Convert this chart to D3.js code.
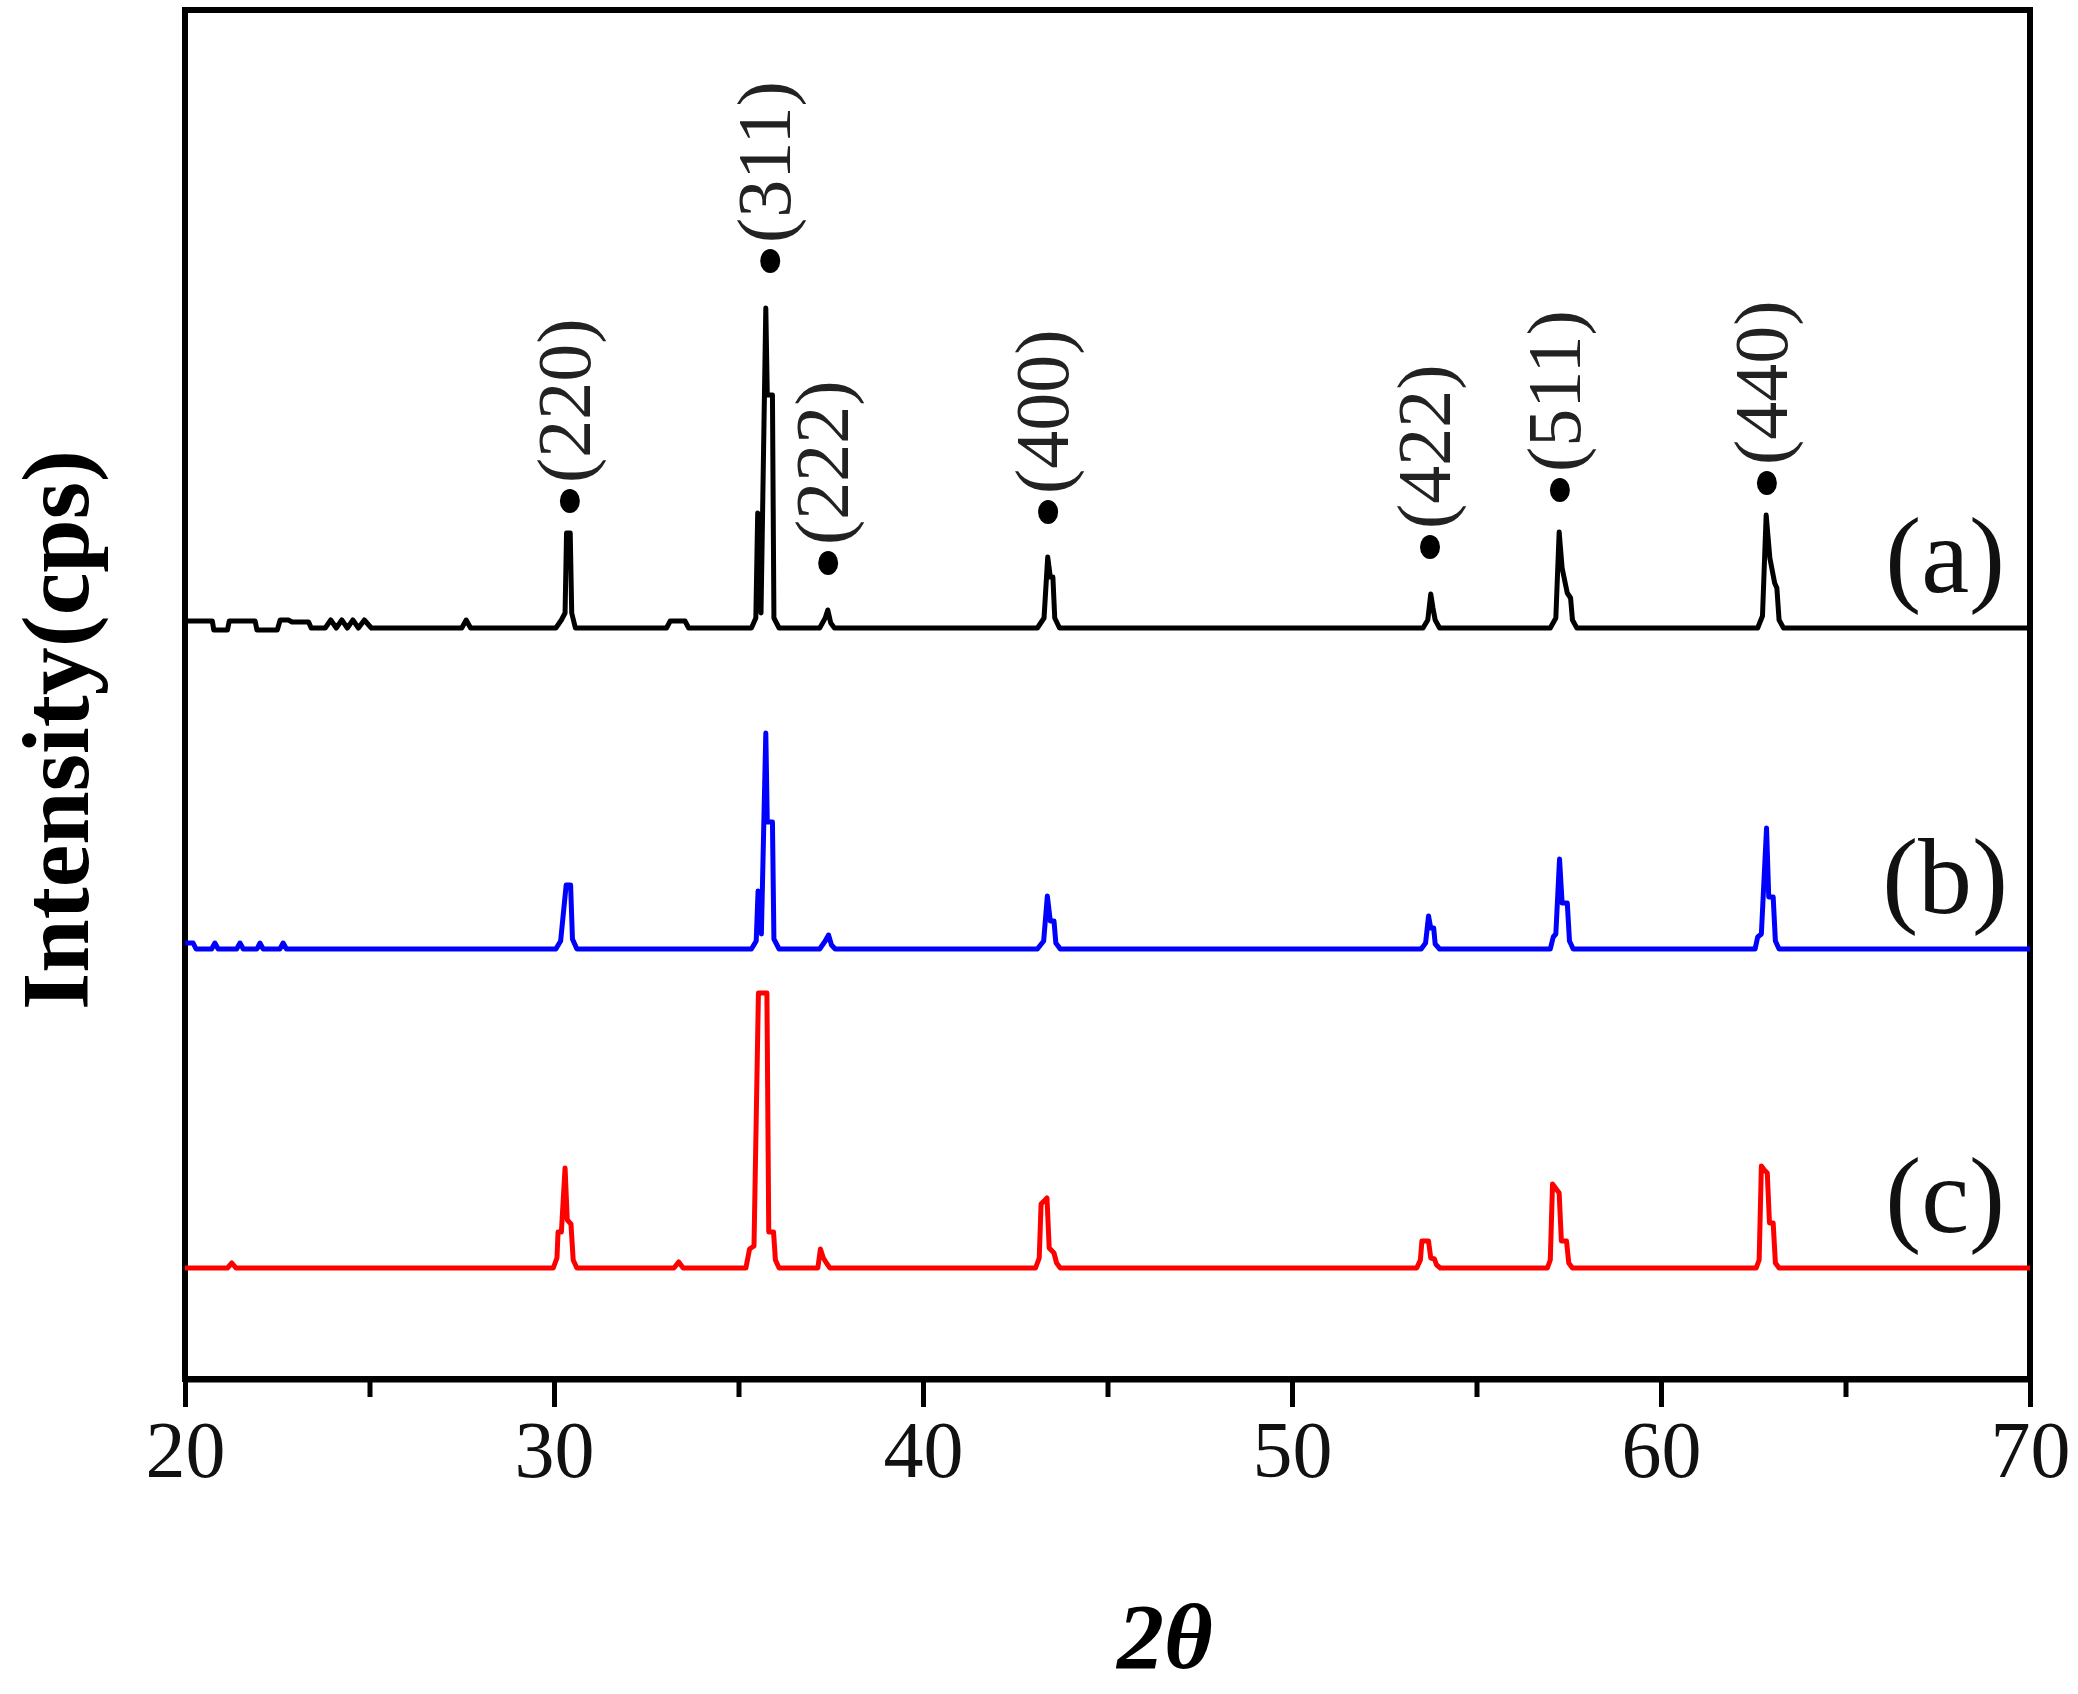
<!DOCTYPE html>
<html>
<head>
<meta charset="utf-8">
<script src="https://cdn.jsdelivr.net/npm/d3@7"></script>
<style>
  body { margin: 0; background: #ffffff; }
  text { font-family: "Times New Roman", "Liberation Serif", serif; }
</style>
</head>
<body>
<svg id="chart" width="2078" height="1694"></svg>
<script>
// ---------- data ----------
const xTicks = [20, 30, 40, 50, 60, 70];
const xMinorTicks = [25, 35, 45, 55, 65];
const seriesNames = ["(a)", "(b)", "(c)"];
const seriesColors = ["#000000", "#0000ff", "#ff0000"];
const seriesOffsets = [751, 430, 111];   // vertical stacking offsets (intensity units)

// [2θ, intensity above own baseline]
const seriesA = [
  [20.00,7],[20.74,7],[20.78,-2],[21.15,-2],[21.20,7],[21.90,7],[21.95,-2],[22.50,-2],[22.58,8],[22.80,8],[22.90,6],[23.35,6],[23.42,0],[23.80,0],[23.95,8],[24.10,0],[24.25,8],[24.40,0],[24.55,8],[24.70,0],[24.86,8],[25.05,0],
  [27.50,0],[27.62,8],[27.74,0],
  [30.05,0],[30.20,8],[30.30,15],[30.34,95],[30.44,95],[30.48,15],[30.58,0],
  [33.05,0],[33.15,7],[33.55,7],[33.65,0],
  [35.35,0],[35.47,10],[35.52,115],[35.56,110],[35.61,15],[35.74,320],[35.78,233],[35.92,233],[35.96,10],[36.10,0],
  [37.20,0],[37.35,10],[37.42,18],[37.50,5],[37.60,0],
  [43.10,0],[43.28,10],[43.38,71],[43.45,51],[43.52,51],[43.57,10],[43.70,0],
  [53.55,0],[53.68,8],[53.76,34],[53.82,20],[53.88,8],[54.00,0],
  [57.00,0],[57.15,10],[57.24,96],[57.32,60],[57.46,35],[57.55,30],[57.60,8],[57.72,0],
  [62.62,0],[62.75,12],[62.85,113],[62.95,70],[63.08,45],[63.14,40],[63.20,8],[63.32,0],
  [70.00,0]
];
const seriesB = [
  [20.00,6],[20.22,6],[20.30,0],[20.42,0],[20.72,0],[20.81,6],[20.90,0],[21.40,0],[21.49,6],[21.58,0],[21.95,0],[22.03,6],[22.12,0],[22.57,0],[22.66,6],[22.75,0],
  [30.05,0],[30.18,8],[30.33,64],[30.45,64],[30.50,10],[30.62,0],
  [35.35,0],[35.48,8],[35.53,58],[35.57,55],[35.62,15],[35.74,216],[35.78,127],[35.92,127],[35.96,10],[36.10,0],
  [37.20,0],[37.35,8],[37.44,14],[37.52,4],[37.62,0],
  [43.10,0],[43.27,8],[43.37,53],[43.45,28],[43.55,28],[43.60,6],[43.72,0],
  [53.50,0],[53.62,6],[53.70,33],[53.76,21],[53.84,21],[53.88,5],[54.00,0],
  [57.00,0],[57.08,12],[57.15,15],[57.25,90],[57.32,46],[57.46,46],[57.52,8],[57.62,0],
  [62.55,0],[62.62,12],[62.72,15],[62.86,121],[62.92,52],[63.04,52],[63.10,8],[63.20,0],
  [70.00,0]
];
const seriesC = [
  [20.00,0],[21.15,0],[21.27,5],[21.38,0],
  [29.98,0],[30.08,10],[30.11,36],[30.20,36],[30.30,100],[30.36,48],[30.46,44],[30.52,8],[30.62,0],
  [33.25,0],[33.38,6],[33.50,0],
  [35.20,0],[35.30,19],[35.42,22],[35.54,275],[35.77,275],[35.82,36],[35.95,36],[36.00,8],[36.10,0],
  [37.15,0],[37.22,19],[37.30,10],[37.40,4],[37.48,0],
  [43.05,0],[43.15,10],[43.20,64],[43.36,70],[43.42,20],[43.55,15],[43.62,5],[43.72,0],
  [53.38,0],[53.48,8],[53.52,27],[53.70,27],[53.76,10],[53.86,9],[53.92,3],[54.02,0],
  [56.92,0],[57.00,8],[57.06,84],[57.14,80],[57.24,75],[57.30,27],[57.44,27],[57.50,5],[57.60,0],
  [62.58,0],[62.66,8],[62.72,102],[62.80,98],[62.88,95],[62.94,45],[63.04,45],[63.10,5],[63.20,0],
  [70.00,0]
];

// peak markers
const hklLabels = ["(220)", "(311)", "(222)", "(400)", "(422)", "(511)", "(440)"];
const hklPositions = [30.43, 35.86, 37.43, 43.39, 53.74, 57.26, 62.87];
const hklDotLevels = [878, 1118, 816, 867, 832, 889, 896];

const seriesLabelX = 67.7;
const xTitle = "2θ";
const yTitle = "Intensity(cps)";

// ---------- drawing ----------
const svg = d3.select("#chart");
const pLeft = 185, pRight = 2030, pTop = 10, pBottom = 1379;

const x = d3.scaleLinear().domain([20, 70]).range([pLeft, pRight]);
const y = d3.scaleLinear().domain([0, 1369]).range([pBottom, pTop]);

// frame
svg.append("rect")
  .attr("x", pLeft).attr("y", pTop)
  .attr("width", pRight - pLeft).attr("height", pBottom - pTop)
  .attr("fill", "none").attr("stroke", "#000").attr("stroke-width", 6);

// bottom axis – major ticks
const gx = svg.append("g").attr("transform", `translate(0,${pBottom})`)
  .call(d3.axisBottom(x).tickValues(xTicks).tickSize(28).tickSizeOuter(0).tickPadding(20)
    .tickFormat(d3.format("d")));
gx.select(".domain").attr("stroke", "#000").attr("stroke-width", 6);
gx.selectAll(".tick line").attr("stroke", "#000").attr("stroke-width", 5);
gx.selectAll(".tick text")
  .attr("font-size", 80)
  .attr("font-family", "'Times New Roman', 'Liberation Serif', serif")
  .attr("fill", "#111")
  .attr("dy", "0.62em");

// minor ticks
const gxm = svg.append("g").attr("transform", `translate(0,${pBottom})`)
  .call(d3.axisBottom(x).tickValues(xMinorTicks).tickSize(18).tickSizeOuter(0).tickFormat(""));
gxm.select(".domain").remove();
gxm.selectAll(".tick line").attr("stroke", "#000").attr("stroke-width", 5);

// series
const allSeries = [seriesA, seriesB, seriesC];
allSeries.forEach((data, i) => {
  const off = seriesOffsets[i];
  const line = d3.line().x(d => x(d[0])).y(d => y(d[1] + off));
  svg.append("path")
    .datum(data)
    .attr("d", line)
    .attr("fill", "none")
    .attr("stroke", seriesColors[i])
    .attr("stroke-width", 5)
    .attr("stroke-linejoin", "round");

  svg.append("text")
    .attr("x", x(seriesLabelX))
    .attr("y", y(off + 36))
    .attr("text-anchor", "middle")
    .attr("font-size", 108)
    .attr("fill", "#111")
    .text(seriesNames[i]);
});

// hkl markers
hklLabels.forEach((lab, i) => {
  const cx = x(hklPositions[i]);
  const cy = y(hklDotLevels[i]);
  svg.append("ellipse")
    .attr("cx", cx).attr("cy", cy)
    .attr("rx", 10).attr("ry", 12)
    .attr("fill", "#000");
  svg.append("text")
    .attr("transform", `translate(${cx},${cy - 18}) rotate(-90)`)
    .attr("dy", "0.26em")
    .attr("font-size", 76)
    .attr("fill", "#222")
    .text(lab);
});

// axis titles
svg.append("text")
  .attr("x", 1165).attr("y", 1668)
  .attr("text-anchor", "middle")
  .attr("font-size", 94)
  .attr("font-weight", "bold")
  .attr("font-style", "italic")
  .attr("fill", "#000")
  .text(xTitle);

svg.append("text")
  .attr("transform", `translate(88,730) rotate(-90)`)
  .attr("text-anchor", "middle")
  .attr("font-size", 96)
  .attr("font-weight", "bold")
  .attr("fill", "#000")
  .text(yTitle);
</script>
</body>
</html>
